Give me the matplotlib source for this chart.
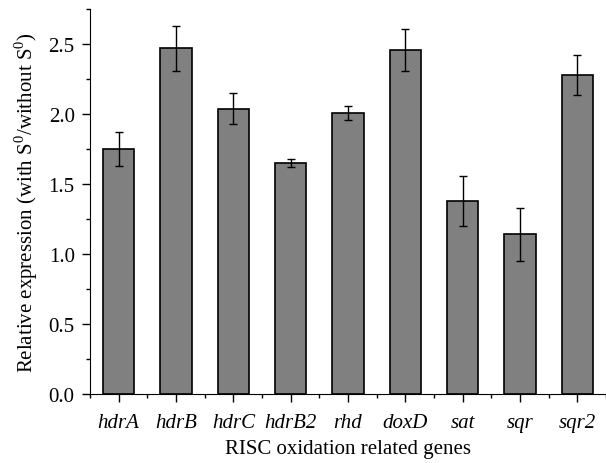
import matplotlib
matplotlib.use("Agg")
import matplotlib.pyplot as plt
from matplotlib.ticker import MultipleLocator

genes = ['hdrA', 'hdrB', 'hdrC', 'hdrB2', 'rhd', 'doxD', 'sat', 'sqr', 'sqr2']
expression = [1.75, 2.47, 2.04, 1.65, 2.01, 2.46, 1.38, 1.14, 2.28]
errors = [0.12, 0.16, 0.11, 0.03, 0.05, 0.15, 0.18, 0.19, 0.14]

plt.rcParams['font.family'] = 'Liberation Serif'
plt.rcParams['font.size'] = 15
plt.rcParams['mathtext.fontset'] = 'custom'
plt.rcParams['mathtext.rm'] = 'Liberation Serif'

fig = plt.figure(figsize=(6.06, 4.64), dpi=100)
ax = fig.add_axes([0.1485, 0.1487, 0.8515, 0.8293])

x = list(range(len(genes)))
ax.bar(x, expression, width=0.55, color='#808080', edgecolor='black', linewidth=1.2,
       yerr=errors, error_kw=dict(ecolor='black', elinewidth=1.0, capsize=3, capthick=1.0))

ax.set_xlim(-0.5, 8.4)
ax.set_ylim(0, 2.75)
ax.set_xticks(x)
ax.set_xticklabels(genes, style='italic')
ax.set_xticks([i + 0.5 for i in range(-1, len(genes))], minor=True)
ax.yaxis.set_major_locator(MultipleLocator(0.5))
ax.yaxis.set_minor_locator(MultipleLocator(0.25))
ax.yaxis.set_major_formatter(matplotlib.ticker.FormatStrFormatter('%.1f'))

ax.spines['top'].set_visible(False)
ax.spines['right'].set_visible(False)
ax.tick_params(which='major', direction='out', length=6, width=1, pad=5)
ax.tick_params(which='minor', direction='out', length=3, width=1)
ax.tick_params(axis='x', which='major', pad=8)

ax.set_xlabel('RISC oxidation related genes', labelpad=5)
ax.set_ylabel('Relative expression (with S$^{0}$/without S$^{0}$)', labelpad=6)

fig.savefig('out.png', dpi=100)
